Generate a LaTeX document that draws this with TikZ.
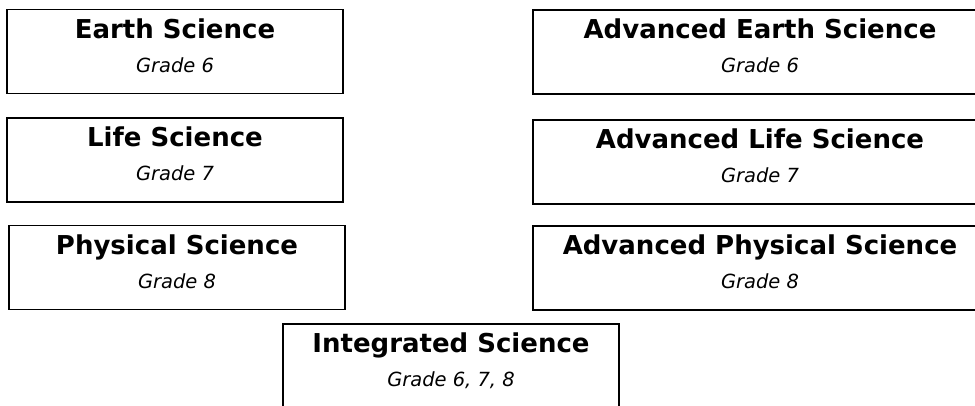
\documentclass[tikz,border=0pt]{standalone}
\usepackage{fontspec}
\setmainfont{DejaVu Sans}
\tikzset{
	course/.style = {rectangle, draw=black, line width=1pt, align=center,
		minimum width=252pt, minimum height=63pt, text depth=9pt,
		font=\fontsize{19.5pt}{25.5pt}\selectfont},
	wide/.style = {course, minimum width=340.5pt}
}
\newcommand{\grade}[1]{{\fontsize{14.6pt}{25.5pt}\selectfont\itshape Grade #1}}
\begin{document}
\begin{tikzpicture}[x=0.75pt,y=-0.75pt]
	\useasboundingbox (0,0) rectangle (975,405);
	\node (earth)    at (175, 51.5)	[course]	{\textbf{Earth Science}\\\grade{6}};
	\node (life)     at (175, 160)	[course]	{\textbf{Life Science}\\\grade{7}};
	\node (physical) at (177, 267.5)	[course]	{\textbf{Physical Science}\\\grade{8}};
	\node (advearth)    at (760, 52)	[wide]	{\textbf{Advanced Earth Science}\\\grade{6}};
	\node (advlife)     at (760, 162)	[wide]	{\textbf{Advanced Life Science}\\\grade{7}};
	\node (advphysical) at (760, 268)	[wide]	{\textbf{Advanced Physical Science}\\\grade{8}};
	\node (integrated)  at (451, 366)	[course]	{\textbf{Integrated Science}\\\grade{6, 7, 8}};
\end{tikzpicture}
\end{document}
